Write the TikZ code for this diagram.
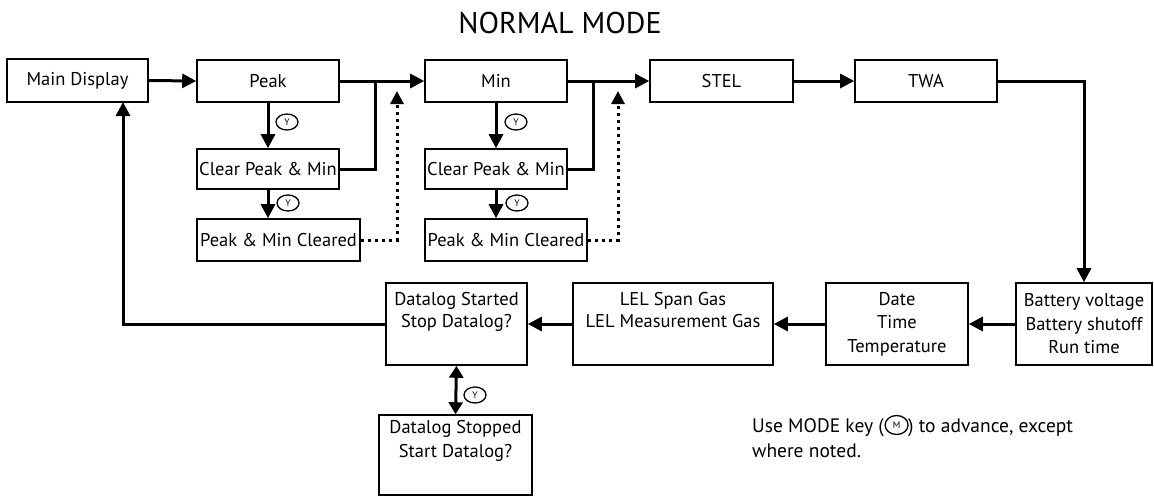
\documentclass[tikz,border=0pt]{standalone}
\usepackage{fontspec}
\setmainfont{PT Sans}
\usetikzlibrary{arrows.meta,shapes.geometric,calc}
\begin{document}
\begin{tikzpicture}[x=1pt,y=-1pt,
  box/.style={draw, line width=1.6pt, inner sep=0pt, align=center, font=\fontsize{18.5}{21.5}\selectfont},
  conn/.style={line width=3pt, -{Triangle[length=14pt,width=14pt]}},
  plainline/.style={line width=3pt},
  dotline/.style={line width=3pt, dash pattern=on 3pt off 4pt, -{Triangle[length=13pt,width=13pt]}},
  ykey/.style={draw, ellipse, line width=1.3pt, inner sep=0pt, minimum width=22pt, minimum height=16pt, font=\fontsize{9.5}{9.5}\selectfont},
  lbl/.style={font=\fontsize{19.5}{25}\selectfont, inner sep=0pt}
]
\useasboundingbox (0,0) rectangle (1154,496);

\node[font=\fontsize{30}{30}\selectfont] (title) at (560,23) {NORMAL MODE};

% top row
\node[box, minimum width=141pt, minimum height=43pt] (main) at (77.5,80.5) {Main Display};
\node[box, minimum width=142pt, minimum height=42pt] (peak) at (268,81) {Peak};
\node[box, minimum width=142pt, minimum height=42pt] (min) at (496,81) {Min};
\node[box, minimum width=143pt, minimum height=42pt] (stel) at (721.5,81) {STEL};
\node[box, minimum width=142pt, minimum height=42pt] (twa) at (926,81) {TWA};

% peak column
\node[box, minimum width=142pt, minimum height=40pt] (clr1) at (268,169) {Clear Peak \& Min};
\node[box, minimum width=163pt, minimum height=42pt] (cld1) at (278.5,240) {Peak \& Min Cleared};
% min column
\node[box, minimum width=142pt, minimum height=40pt] (clr2) at (496,169) {Clear Peak \& Min};
\node[box, minimum width=162pt, minimum height=42pt] (cld2) at (506,240) {Peak \& Min Cleared};

% bottom row
\node[box, minimum width=136pt, minimum height=82pt, font=\fontsize{18.5}{23.5}\selectfont] (bat) at (1084,324) {Battery voltage\\Battery shutoff\\Run time};
\node[box, minimum width=142pt, minimum height=82pt, font=\fontsize{18.5}{23.5}\selectfont] (date) at (897,324) {Date\\Time\\Temperature};
\node[box, minimum width=200pt, minimum height=82pt] (lel) at (673,324) {LEL Span Gas\\LEL Measurement Gas\\\strut};
\node[box, minimum width=141pt, minimum height=82pt] (dls) at (456.5,324) {Datalog Started\\Stop Datalog?\\\strut};
\node[box, minimum width=153pt, minimum height=80pt, font=\fontsize{18.5}{24}\selectfont] (dlst) at (455.5,455) {Datalog Stopped\\Start Datalog?\\\strut};

% Y keys
\node[ykey] (y1) at (287,122) {Y};
\node[ykey] (y2) at (288,203) {Y};
\node[ykey] (y3) at (516,122) {Y};
\node[ykey] (y4) at (517,203) {Y};
\node[ykey] (y5) at (475,395) {Y};

% junction coordinates
\coordinate (j1) at (375,81);
\coordinate (j2) at (593,81);
\coordinate (d1) at (397,91);
\coordinate (d2) at (618,91);
\coordinate (m1) at (123,102);

% connectors top row
\draw[conn] (main.east) -- (peak.west);
\draw[conn] (peak.east) -- (min.west);
\draw[conn] (min.east) -- (stel.west);
\draw[conn] (stel.east) -- (twa.west);
\draw[conn] (twa.east) -| (bat.north);

% peak column
\draw[conn] (peak.south) -- (clr1.north);
\draw[conn] (clr1.south) -- (clr1.south |- cld1.north);
\draw[plainline] (clr1.east) -| (j1);
\draw[dotline] (cld1.east) -| (d1);
% min column
\draw[conn] (min.south) -- (clr2.north);
\draw[conn] (clr2.south) -- (clr2.south |- cld2.north);
\draw[plainline] (clr2.east) -| (j2);
\draw[dotline] (cld2.east) -| (d2);

% bottom row
\draw[conn] (bat.west) -- (date.east);
\draw[conn] (date.west) -- (lel.east);
\draw[conn] (lel.west) -- (dls.east);
\draw[conn] (dls.west) -| (m1);
\draw[line width=3pt, {Triangle[length=12pt,width=14pt]}-{Triangle[length=12pt,width=14pt]}] (dls.south) -- (dlst.north);

% note
\node[lbl, anchor=base west] (n1) at (752,432) {Use MODE key (};
\node[ykey, anchor=west, minimum width=23pt, minimum height=19pt] (km) at ($(n1.base east)+(0.5,-7)$) {M};
\node[lbl, anchor=base west] (n2) at ($(n1.base east)+(24,0)$) {) to advance, except};
\node[lbl, anchor=base west] (n3) at (752,457) {where noted.};
\end{tikzpicture}
\end{document}
